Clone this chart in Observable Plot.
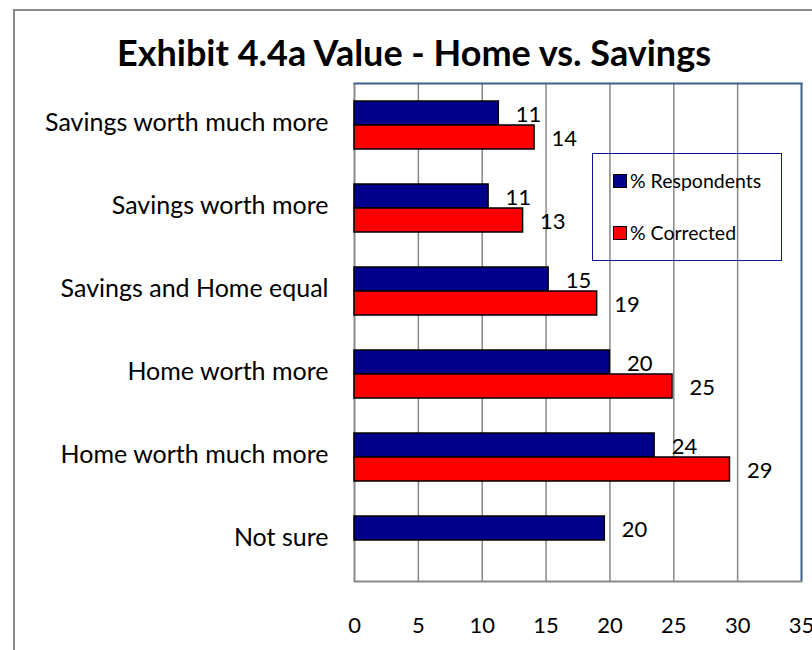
<!DOCTYPE html>
<html>
<head>
<meta charset="utf-8">
<script src="https://cdn.jsdelivr.net/npm/d3@7"></script>
<script src="https://cdn.jsdelivr.net/npm/@observablehq/plot@0.6"></script>
<style>
  html, body { margin: 0; padding: 0; background: #fff; }
  #wrap { position: relative; width: 812px; height: 650px; overflow: hidden; font-family: Lato, sans-serif; }
  #outer { position: absolute; left: 13px; top: 9px; width: 900px; height: 800px; border: 2px solid #8a8a8a; box-sizing: border-box; }
  #title { position: absolute; left: 0; width: 828px; top: 31px; text-align: center; font-weight: bold; font-size: 36px; color: #000; line-height: 1.2; }
  #chart { position: absolute; left: 0; top: 0; }
  #legend { position: absolute; left: 592px; top: 153px; width: 190px; height: 108px; border: 1.5px solid #141496; box-sizing: border-box; font-size: 19.5px; }
  .item { position: absolute; left: 20px; display: flex; align-items: center; }
  .sw { width: 12px; height: 12px; border: 1.5px solid #000; margin-right: 3px; }
</style>
</head>
<body>
<div id="wrap">
  <div id="outer"></div>
  <div id="chart"></div>
  <div id="title">Exhibit 4.4a Value - Home vs. Savings</div>
  <div id="legend"></div>
</div>
<script>
const categories = ["Savings worth much more", "Savings worth more", "Savings and Home equal", "Home worth more", "Home worth much more", "Not sure"];
const seriesNames = ["% Respondents", "% Corrected"];
const respondents = [11.3, 10.5, 15.2, 20.0, 23.5, 19.6];
const corrected = [14.1, 13.2, 19.0, 24.9, 29.4, null];
const colors = ["#00008c", "#ff0000"];
const xTicks = [0, 5, 10, 15, 20, 25, 30, 35];

const data = [];
categories.forEach((c, i) => {
  if (respondents[i] != null) data.push({category: c, series: seriesNames[0], value: respondents[i]});
  if (corrected[i] != null) data.push({category: c, series: seriesNames[1], value: corrected[i]});
});

const chart = Plot.plot({
  width: 812,
  height: 650,
  marginTop: 80,
  marginBottom: 67,
  marginLeft: 354,
  marginRight: 11,
  style: {fontFamily: "Lato, sans-serif", fontSize: "22px", color: "#000", background: "transparent", overflow: "visible"},
  x: {domain: [0, 35], ticks: xTicks},
  y: {domain: seriesNames, paddingInner: 0, paddingOuter: 0.71, axis: null},
  fy: {domain: categories, padding: 0, label: null},
  color: {domain: seriesNames, range: colors},
  facet: {data, y: "category", label: null},
  marks: [
    Plot.ruleX(xTicks.slice(1, -1), {stroke: "#888", strokeWidth: 1.5}),
    Plot.ruleX([0], {stroke: "#888", strokeWidth: 2}),
    Plot.ruleX([35], {stroke: "#3f5f90", strokeWidth: 2}),
    Plot.frame({anchor: "top", facetAnchor: "top", stroke: "#3f5f90", strokeWidth: 2}),
    Plot.frame({anchor: "bottom", facetAnchor: "bottom", stroke: "#888", strokeWidth: 2}),
    Plot.barX(data, {x: "value", y: "series", fill: "series", stroke: "#000", strokeWidth: 1.5}),
    Plot.text(data, {x: "value", y: "series", text: d => String(Math.round(d.value)), textAnchor: "start", dx: 17, dy: 1, fill: "#000", fontSize: 22}),
    Plot.axisX({ticks: xTicks, tickSize: 0, tickPadding: 36, fontSize: 22, label: null}),
    Plot.axisFy({anchor: "left", tickSize: 0, tickPadding: 26, fontSize: 25, dy: -2, label: null})
  ]
});
document.getElementById("chart").appendChild(chart);

const legend = document.getElementById("legend");
seriesNames.forEach((s, i) => {
  const item = document.createElement("div");
  item.className = "item";
  item.style.top = (i === 0 ? 15 : 67) + "px";
  const sw = document.createElement("div");
  sw.className = "sw";
  sw.style.background = colors[i];
  const t = document.createElement("span");
  t.textContent = s;
  item.appendChild(sw);
  item.appendChild(t);
  legend.appendChild(item);
});
</script>
</body>
</html>
